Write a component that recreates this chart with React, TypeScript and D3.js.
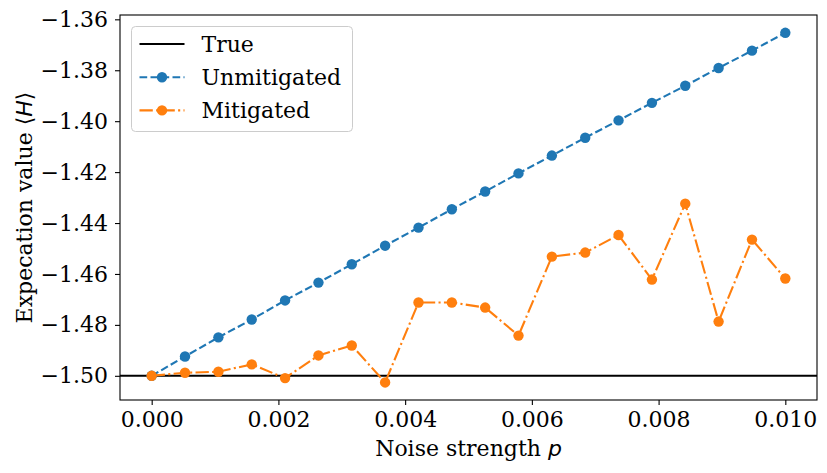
import React, { useEffect, useRef } from 'react';
import * as d3 from 'd3';

// noise strengths p (20 evenly spaced points from 0 to 0.01)
const noise = [
  0, 0.000526, 0.001053, 0.001579, 0.002105, 0.002632, 0.003158, 0.003684, 0.004211, 0.004737,
  0.005263, 0.005789, 0.006316, 0.006842, 0.007368, 0.007895, 0.008421, 0.008947, 0.009474, 0.01,
];
const unmitigated = [
  -1.5, -1.4924, -1.4849, -1.4779, -1.4704, -1.4634, -1.4562, -1.4489, -1.4418, -1.4346,
  -1.4276, -1.4205, -1.4135, -1.4065, -1.3997, -1.3928, -1.3861, -1.3791, -1.3723, -1.3653,
];
const mitigated = [
  -1.5, -1.4988, -1.4984, -1.4955, -1.5009, -1.492, -1.4881, -1.5026, -1.4712, -1.4712,
  -1.4732, -1.4842, -1.4532, -1.4516, -1.4447, -1.4622, -1.4324, -1.4787, -1.4465, -1.4618,
];
const trueValue = -1.5;
const xTicks = [0, 0.002, 0.004, 0.006, 0.008, 0.01];
const yTicks = [-1.5, -1.48, -1.46, -1.44, -1.42, -1.4, -1.38, -1.36];
const seriesNames = ['True', 'Unmitigated', 'Mitigated'];

const W = 827;
const H = 473;
const margin = { top: 15, right: 10, bottom: 73, left: 120 };
const serif = "'DejaVu Serif', serif";
const blue = '#1f77b4';
const orange = '#ff7f0e';
const dash = '7.7,3.3';
const dashDot = '13.3,3.3,2.1,3.3';

const App = () => {
  const ref = useRef<SVGSVGElement | null>(null);

  useEffect(() => {
    const svg = d3.select(ref.current);
    svg.selectAll('*').remove();

    const width = W - margin.left - margin.right;
    const height = H - margin.top - margin.bottom;

    const x = d3.scaleLinear().domain([-0.0005, 0.0105]).range([0, width]);
    const y = d3.scaleLinear().domain([-1.5095, -1.3583]).range([height, 0]);

    const g = svg.append('g').attr('transform', `translate(${margin.left},${margin.top})`);

    // axes
    const fmtY = (d: number) => d3.format('.2f')(d).replace('-', '\u2212');
    g.append('g')
      .attr('transform', `translate(0,${height})`)
      .call(d3.axisBottom(x).tickValues(xTicks).tickFormat(d3.format('.3f') as any).tickSize(5).tickPadding(6).tickSizeOuter(0))
      .call(a => a.select('.domain').remove())
      .call(a => a.selectAll('text').attr('font-size', 22).attr('font-family', serif).attr('fill', '#000'))
      .call(a => a.selectAll('line').attr('stroke', '#000').attr('stroke-width', 1.1));

    g.append('g')
      .call(d3.axisLeft(y).tickValues(yTicks).tickFormat(fmtY as any).tickSize(5).tickPadding(7).tickSizeOuter(0))
      .call(a => a.select('.domain').remove())
      .call(a => a.selectAll('text').attr('font-size', 22).attr('font-family', serif).attr('fill', '#000'))
      .call(a => a.selectAll('line').attr('stroke', '#000').attr('stroke-width', 1.1));

    const plot = g.append('g');

    // true value line
    plot.append('line')
      .attr('x1', 0).attr('x2', width)
      .attr('y1', y(trueValue)).attr('y2', y(trueValue))
      .attr('stroke', '#000').attr('stroke-width', 2.1);

    const line = d3.line<number>()
      .x((_, i) => x(noise[i]))
      .y(d => y(d));

    const drawSeries = (vals: number[], color: string, dasharray: string) => {
      plot.append('path')
        .datum(vals)
        .attr('fill', 'none')
        .attr('stroke', color)
        .attr('stroke-width', 2.1)
        .attr('stroke-dasharray', dasharray)
        .attr('d', line);
      plot.selectAll(null)
        .data(vals)
        .enter()
        .append('circle')
        .attr('cx', (_, i) => x(noise[i]))
        .attr('cy', d => y(d))
        .attr('r', 5.2)
        .attr('fill', color);
    };
    drawSeries(unmitigated, blue, dash);
    drawSeries(mitigated, orange, dashDot);

    // frame
    g.append('rect')
      .attr('width', width).attr('height', height)
      .attr('fill', 'none').attr('stroke', '#000').attr('stroke-width', 1.1);

    // axis labels
    const xl = svg.append('text')
      .attr('x', margin.left + width / 2).attr('y', 456)
      .attr('text-anchor', 'middle').attr('font-size', 22).attr('font-family', serif);
    xl.append('tspan').text('Noise strength ');
    xl.append('tspan').attr('font-family', "'DejaVu Sans', sans-serif").attr('font-style', 'italic').text('p');

    const yl = svg.append('text')
      .attr('transform', `translate(32,${margin.top + height / 2}) rotate(-90)`)
      .attr('text-anchor', 'middle').attr('font-size', 22).attr('font-family', serif);
    yl.append('tspan').text('Expecation value ');
    yl.append('tspan').attr('font-family', "'DejaVu Sans', sans-serif").text('\u27e8');
    yl.append('tspan').attr('font-family', "'DejaVu Sans', sans-serif").attr('font-style', 'italic').text('H');
    yl.append('tspan').attr('font-family', "'DejaVu Sans', sans-serif").text('\u27e9');

    // legend
    const lg = svg.append('g').attr('transform', 'translate(131.5,26.5)');
    lg.append('rect')
      .attr('width', 221).attr('height', 105).attr('rx', 4)
      .attr('fill', '#fff').attr('fill-opacity', 0.8)
      .attr('stroke', '#ccc').attr('stroke-width', 1);
    const styles = [
      { color: '#000', dash: null as string | null, marker: false },
      { color: blue, dash, marker: true },
      { color: orange, dash: dashDot, marker: true },
    ];
    seriesNames.forEach((name, i) => {
      const cy = 17.5 + i * 33.2;
      const s = styles[i];
      lg.append('line')
        .attr('x1', 8).attr('x2', 53).attr('y1', cy).attr('y2', cy)
        .attr('stroke', s.color).attr('stroke-width', 2.1)
        .attr('stroke-dasharray', s.dash);
      if (s.marker) lg.append('circle').attr('cx', 30.5).attr('cy', cy).attr('r', 5.2).attr('fill', s.color);
      lg.append('text')
        .attr('x', 70).attr('y', cy + 7.5)
        .attr('font-size', 22).attr('font-family', serif)
        .text(name);
    });
  }, []);

  return (
    <svg ref={ref} width={W} height={H} style={{ position: 'absolute', left: 0, top: 0, background: '#fff' }} />
  );
};

export default App;
